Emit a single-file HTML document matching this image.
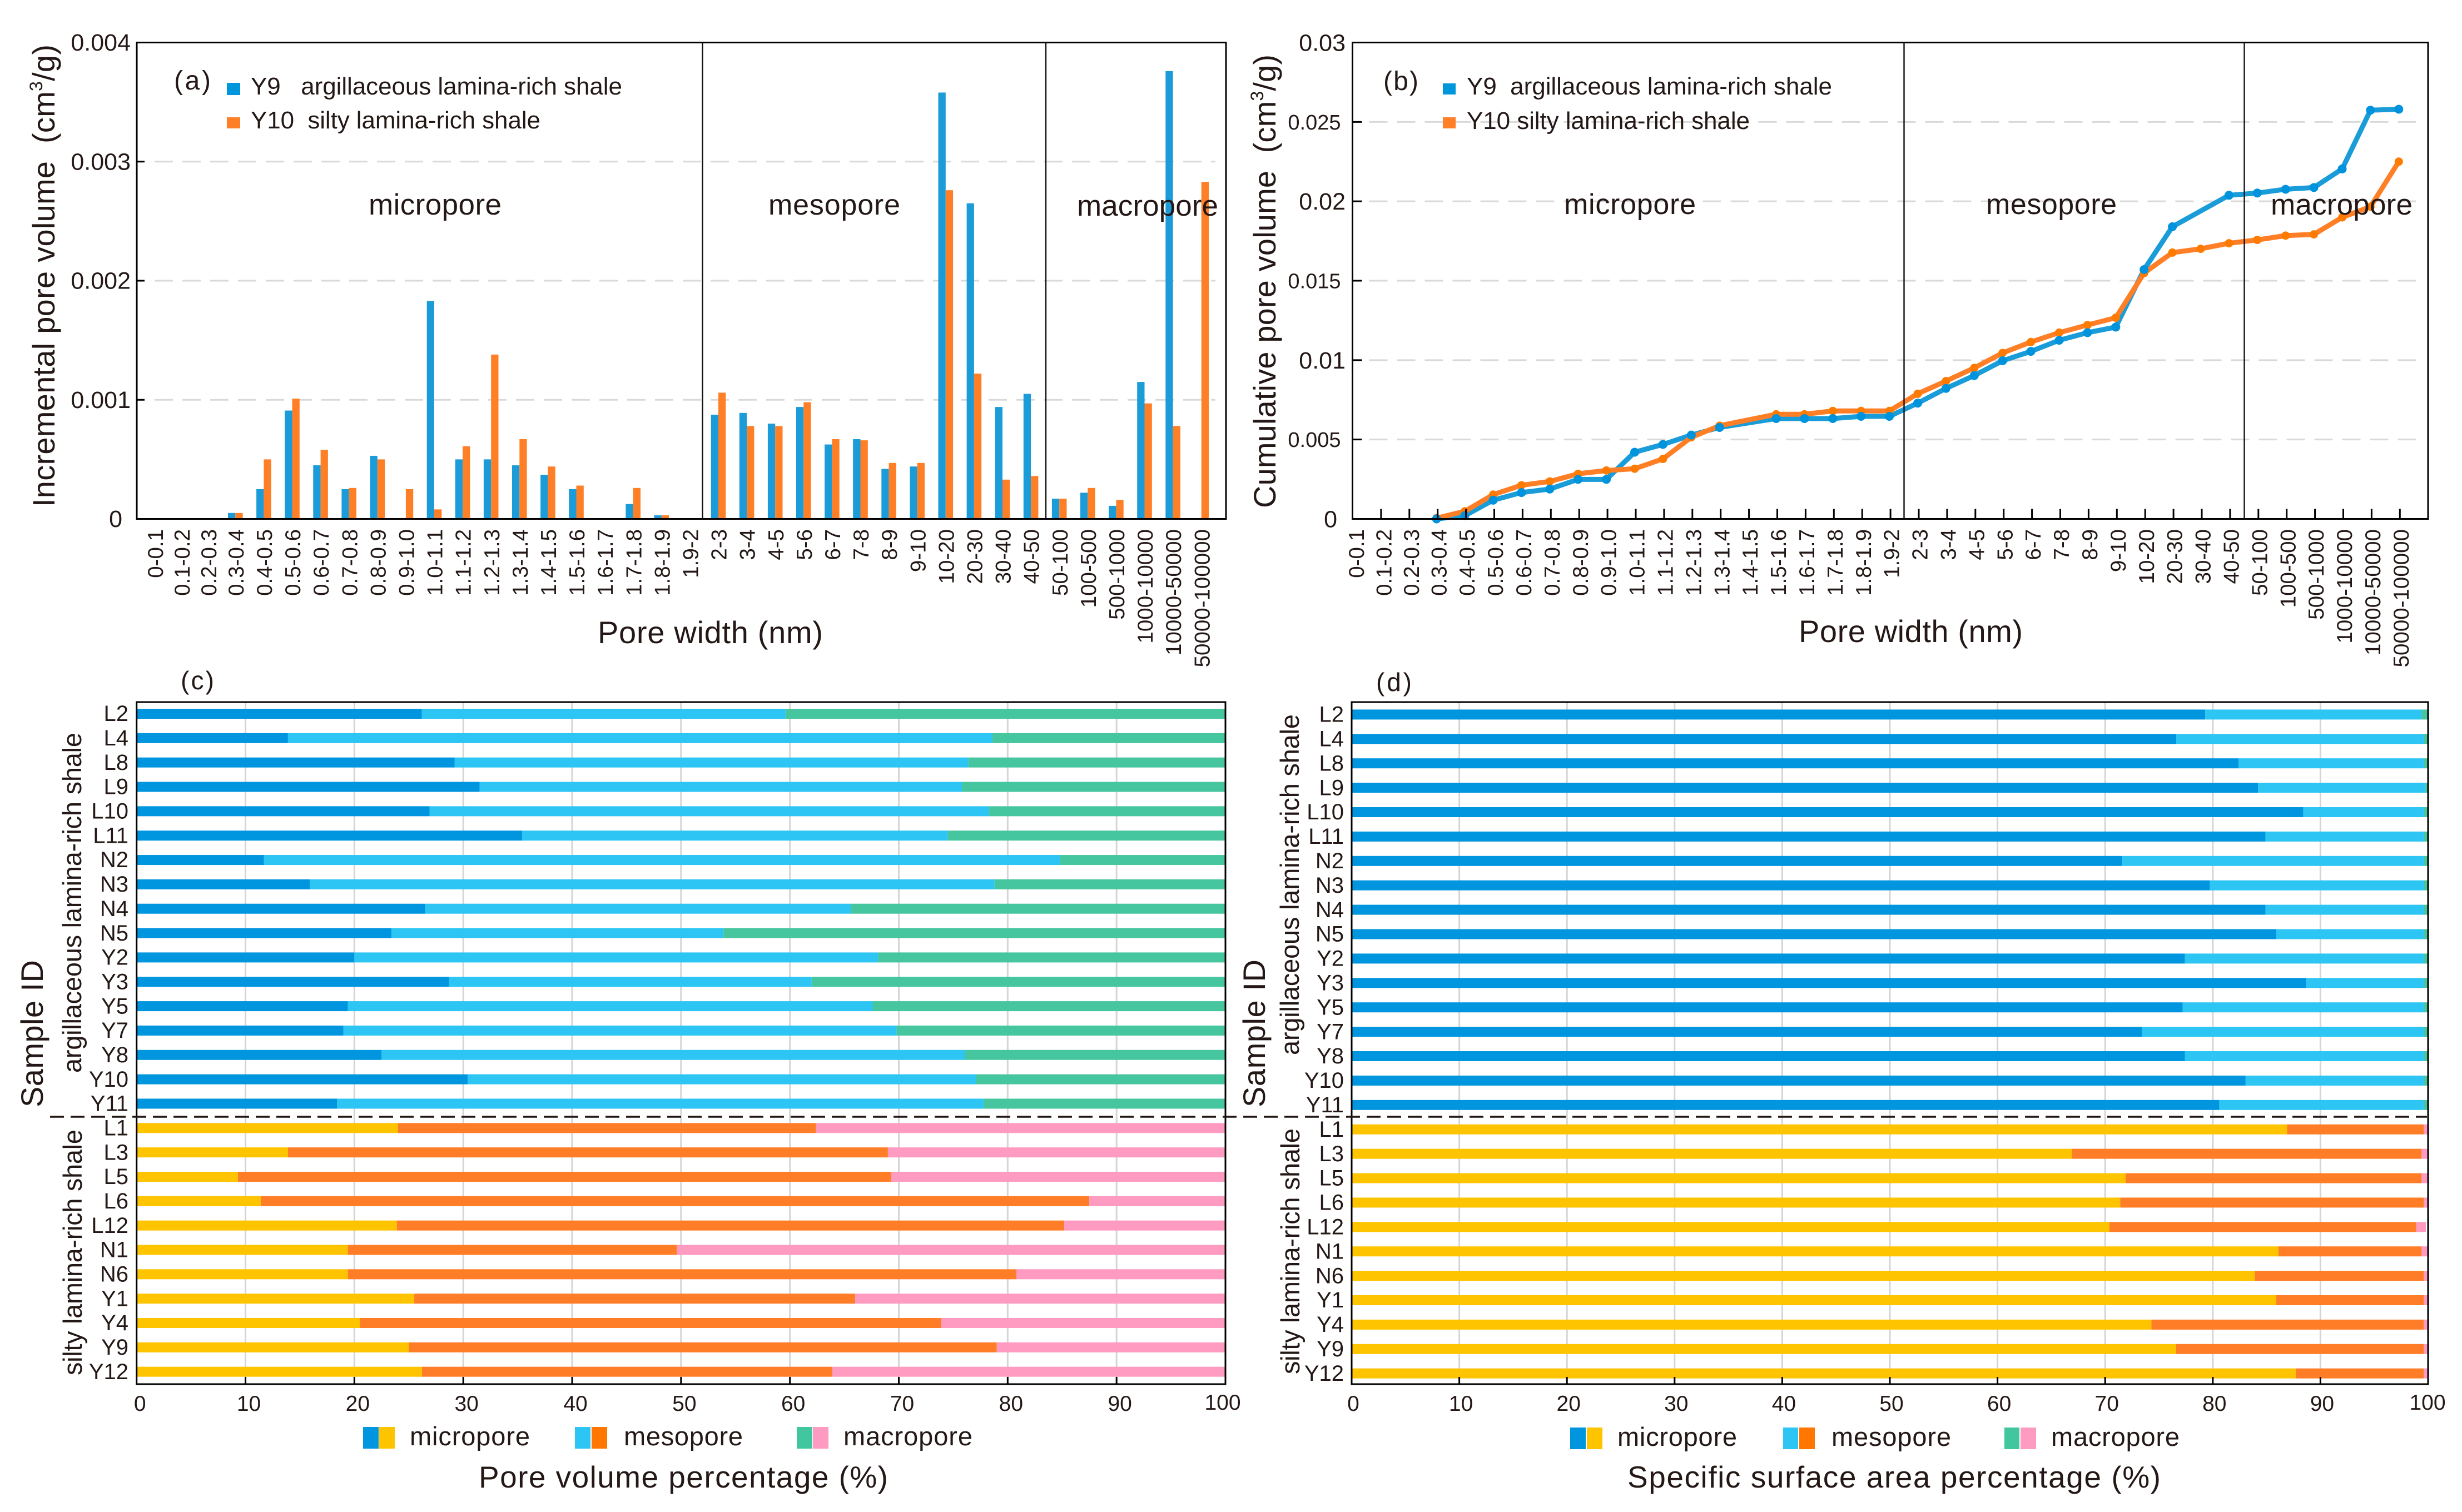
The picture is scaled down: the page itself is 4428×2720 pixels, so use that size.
<!DOCTYPE html>
<html lang="en">
<head>
<meta charset="utf-8">
<title>Pore volume and surface area charts</title>
<style>
html,body{margin:0;padding:0;background:#fff;}
svg{display:block;}
text{font-family:"Liberation Sans",Arial,sans-serif;fill:#231815;white-space:pre;}
</style>
</head>
<body>
<svg id="figure" xmlns="http://www.w3.org/2000/svg" width="4428" height="2720" viewBox="0 0 4428 2720">
  <rect width="4428" height="2720" fill="#fff"/>
  <g id="layer-marks"></g>

  <g>
    <text x="313" y="161" font-size="48" textLength="66">(a)</text>
    <rect x="408" y="149" width="24" height="22" fill="#0096dc"/>
    <rect x="408" y="211" width="24" height="20" fill="#ff7f27"/>
    <text x="451" y="170" font-size="44" textLength="668">Y9   argillaceous lamina-rich shale</text>
    <text x="451" y="231" font-size="44" textLength="521">Y10  silty lamina-rich shale</text>
    <text x="663" y="386" font-size="53" textLength="239">micropore</text>
    <text x="1382" y="386" font-size="52" textLength="237">mesopore</text>
    <text x="1937" y="388" font-size="53" textLength="254">macropore</text>
    <text transform="translate(98,912) rotate(-90)" font-size="56" textLength="832">Incremental pore volume  (cm<tspan font-size="32" dy="-22">3</tspan><tspan dy="22">/g)</tspan></text>
    <text x="1075" y="1157" font-size="56" textLength="405">Pore width (nm)</text>
  </g>

  <g>
    <text x="2488" y="162" font-size="48" textLength="63">(b)</text>
    <rect x="2595" y="150" width="23" height="20" fill="#0096dc"/>
    <rect x="2595" y="211" width="23" height="20" fill="#ff7f27"/>
    <text x="2638" y="170" font-size="44" textLength="657">Y9  argillaceous lamina-rich shale</text>
    <text x="2638" y="232" font-size="44" textLength="509">Y10 silty lamina-rich shale</text>
    <text x="2813" y="385" font-size="52" textLength="237">micropore</text>
    <text x="3572" y="385" font-size="52" textLength="235">mesopore</text>
    <text x="4084" y="386" font-size="53" textLength="255">macropore</text>
    <text transform="translate(2294,914) rotate(-90)" font-size="56" textLength="816">Cumulative pore volume  (cm<tspan font-size="32" dy="-22">3</tspan><tspan dy="22">/g)</tspan></text>
    <text x="3235" y="1155" font-size="56" textLength="403">Pore width (nm)</text>
  </g>

  <g>
    <text x="325" y="1240" font-size="46" textLength="60">(c)</text>
    <text transform="translate(77,1992) rotate(-90)" font-size="56" textLength="265">Sample ID</text>
    <text transform="translate(146,1930) rotate(-90)" font-size="47" textLength="612">argillaceous lamina-rich shale</text>
    <text transform="translate(147,2474) rotate(-90)" font-size="47" textLength="442">silty lamina-rich shale</text>
    <rect x="653" y="2567" width="28" height="39" fill="#0095df"/>
    <rect x="682" y="2567" width="28" height="39" fill="#ffc400"/>
    <text x="737" y="2600" font-size="47" textLength="216">micropore</text>
    <rect x="1034" y="2567" width="28" height="39" fill="#2dc5f4"/>
    <rect x="1064" y="2567" width="28" height="39" fill="#ff7700"/>
    <text x="1122" y="2600" font-size="47" textLength="214">mesopore</text>
    <rect x="1433" y="2567" width="28" height="39" fill="#42c69f"/>
    <rect x="1462" y="2567" width="28" height="39" fill="#ff9ac1"/>
    <text x="1517" y="2600" font-size="47" textLength="232">macropore</text>
    <text x="861" y="2676" font-size="55" textLength="736">Pore volume percentage (%)</text>
  </g>

  <g>
    <text x="2475" y="1243" font-size="46" textLength="64">(d)</text>
    <text transform="translate(2275,1992) rotate(-90)" font-size="56" textLength="266">Sample ID</text>
    <text transform="translate(2336,1898) rotate(-90)" font-size="47" textLength="613">argillaceous lamina-rich shale</text>
    <text transform="translate(2337,2472) rotate(-90)" font-size="47" textLength="442">silty lamina-rich shale</text>
    <rect x="2824" y="2568" width="28" height="39" fill="#0095df"/>
    <rect x="2854" y="2568" width="28" height="39" fill="#ffc400"/>
    <text x="2909" y="2601" font-size="47" textLength="215">micropore</text>
    <rect x="3207" y="2568" width="27" height="39" fill="#2dc5f4"/>
    <rect x="3236" y="2568" width="28" height="39" fill="#ff7700"/>
    <text x="3294" y="2601" font-size="47" textLength="215">mesopore</text>
    <rect x="3605" y="2568" width="27" height="39" fill="#42c69f"/>
    <rect x="3634" y="2568" width="28" height="39" fill="#ff9ac1"/>
    <text x="3689" y="2601" font-size="47" textLength="231">macropore</text>
    <text x="2927" y="2676" font-size="55" textLength="959">Specific surface area percentage (%)</text>
  </g>
  <line x1="90" y1="2009" x2="4365" y2="2009" stroke="#231815" stroke-width="3.5" stroke-dasharray="25 12"/>
</svg>
<script>
// ---------- pore-width categories (panels a, b) ----------
const poreCategories = ["0-0.1","0.1-0.2","0.2-0.3","0.3-0.4","0.4-0.5","0.5-0.6","0.6-0.7","0.7-0.8","0.8-0.9","0.9-1.0","1.0-1.1","1.1-1.2","1.2-1.3","1.3-1.4","1.4-1.5","1.5-1.6","1.6-1.7","1.7-1.8","1.8-1.9","1.9-2","2-3","3-4","4-5","5-6","6-7","7-8","8-9","9-10","10-20","20-30","30-40","40-50","50-100","100-500","500-1000","1000-10000","10000-50000","50000-100000"];

// ---------- panel (a) incremental pore volume, cm3/g ----------
const incrementalY9 = [0,0,0,0.00005,0.00025,0.00091,0.00045,0.00025,0.00053,0,0.00183,0.0005,0.0005,0.00045,0.00037,0.00025,0,0.000125,0.00003,0,0.000875,0.00089,0.0008,0.00094,0.000625,0.00067,0.00042,0.00044,0.00358,0.00265,0.00094,0.00105,0.00017,0.00022,0.00011,0.00115,0.00376,0];
const incrementalY10 = [0,0,0,0.00005,0.0005,0.00101,0.00058,0.00026,0.0005,0.00025,0.00008,0.00061,0.00138,0.00067,0.00044,0.00028,0,0.00026,0.00003,0,0.00106,0.00078,0.00078,0.00098,0.00067,0.00066,0.00047,0.00047,0.00276,0.00122,0.00033,0.00036,0.00017,0.00026,0.00016,0.00097,0.00078,0.00283];
const incrementalTicks = [0,0.001,0.002,0.003,0.004];
const incrementalTickLabels = ["0","0.001","0.002","0.003","0.004"];

// ---------- panel (b) cumulative pore volume, cm3/g ----------
const cumulativeY9 = [null,null,null,0,0.00021,0.00118,0.00166,0.00188,0.00249,0.00249,0.0042,0.00469,0.00528,0.00576,null,0.00632,0.00632,0.00632,0.00646,0.00646,0.00729,0.00822,0.00903,0.00996,0.01055,0.01125,0.01173,0.01208,0.0157,0.0184,null,0.02038,0.02052,0.02076,0.02087,0.02204,0.02574,0.0258];
const cumulativeY10 = [null,null,null,0.00005,0.00048,0.00153,0.00212,0.00236,0.00284,0.00305,0.00316,0.00378,0.00514,0.00587,null,0.00659,0.00659,0.0068,0.0068,0.0068,0.00788,0.00868,0.00951,0.01045,0.01114,0.01173,0.01221,0.01267,0.01548,0.01677,0.01701,0.01736,0.01757,0.01784,0.01792,0.01899,0.01966,0.0225];
const cumulativeTicks = [0,0.005,0.01,0.015,0.02,0.025,0.03];
const cumulativeTickLabels = ["0","0.005","0.01","0.015","0.02","0.025","0.03"];

// ---------- panels (c), (d) samples ----------
const argillaceousSamples = ["L2","L4","L8","L9","L10","L11","N2","N3","N4","N5","Y2","Y3","Y5","Y7","Y8","Y10","Y11"];
const siltySamples = ["L1","L3","L5","L6","L12","N1","N6","Y1","Y4","Y9","Y12"];
const percentTicks = [0,10,20,30,40,50,60,70,80,90,100];

// panel (c) pore volume percentage
const volumeMicroArgillaceous = [26.2,13.9,29.2,31.5,26.9,35.4,11.7,15.9,26.5,23.4,20.0,28.7,19.4,19.0,22.5,30.4,18.4];
const volumeMesoArgillaceous = [33.4,64.7,47.2,44.3,51.4,39.1,73.1,62.9,39.1,30.5,48.1,33.3,48.2,50.8,53.6,46.7,59.4];
const volumeMacroArgillaceous = [40.4,21.4,23.6,24.2,21.7,25.5,15.2,21.2,34.4,46.1,31.9,38.0,32.4,30.2,23.9,22.9,22.2];
const volumeMicroSilty = [24,13.9,9.3,11.4,23.9,19.4,19.4,25.5,20.5,25,26.2];
const volumeMesoSilty = [38.4,55.1,60,76.1,61.3,30.2,61.4,40.5,53.4,54,37.7];
const volumeMacroSilty = [37.6,31,30.7,12.5,14.8,50.4,19.2,34,26.1,21,36.1];

// panel (d) specific surface area percentage
const surfaceMicroArgillaceous = [79.3,76.6,82.4,84.2,88.4,84.9,71.6,79.7,84.9,85.9,77.4,88.7,77.2,73.4,77.4,83.05,80.6];
const surfaceMesoArgillaceous = [20.1,23,17.2,15.55,11.2,14.7,28,19.9,14.7,13.7,22.2,10.9,22.4,26.2,22.2,16.55,19];
const surfaceMacroArgillaceous = [0.6,0.4,0.4,0.25,0.4,0.4,0.4,0.4,0.4,0.4,0.4,0.4,0.4,0.4,0.4,0.4,0.4];
const surfaceMicroSilty = [86.9,66.9,71.9,71.4,70.4,86.1,83.9,85.9,74.3,76.6,87.7];
const surfaceMesoSilty = [12.7,32.5,27.5,28.2,28.5,13.3,15.7,13.7,25.3,23,11.9];
const surfaceMacroSilty = [0.4,0.6,0.6,0.4,0.9,0.6,0.4,0.4,0.4,0.4,0.4];

const SVGNS = "http://www.w3.org/2000/svg";
const layer = document.getElementById("layer-marks");

function addLine(x1, y1, x2, y2, stroke, width, name, dash) {
  const el = document.createElementNS(SVGNS, "line");
  
  
  el.setAttribute("x1", x1); el.setAttribute("y1", y1);
  el.setAttribute("x2", x2); el.setAttribute("y2", y2);
  el.setAttribute("stroke", stroke); el.setAttribute("stroke-width", width);
  if (dash) el.setAttribute("stroke-dasharray", dash);
  layer.appendChild(el);
  return el;
}
function addRect(x, y, w, h, fill, name) {
  const el = document.createElementNS(SVGNS, "rect");
  
  
  el.setAttribute("x", x); el.setAttribute("y", y);
  el.setAttribute("width", Math.max(0, w)); el.setAttribute("height", Math.max(0, h));
  el.setAttribute("fill", fill);
  layer.appendChild(el);
  return el;
}
function addText(str, x, y, size, anchor, name, rotate) {
  const el = document.createElementNS(SVGNS, "text");
  
  
  el.setAttribute("font-size", size);
  el.setAttribute("text-anchor", anchor);
  if (rotate) el.setAttribute("transform", "translate(" + x + "," + y + ") rotate(-90)");
  else { el.setAttribute("x", x); el.setAttribute("y", y); }
  el.textContent = str;
  layer.appendChild(el);
  return el;
}
function addFrame(x0, y0, x1, y1, name) {
  const el = document.createElementNS(SVGNS, "rect");
  
  
  el.setAttribute("x", x0); el.setAttribute("y", y0);
  el.setAttribute("width", x1 - x0); el.setAttribute("height", y1 - y0);
  el.setAttribute("fill", "none"); el.setAttribute("stroke", "#000"); el.setAttribute("stroke-width", 3);
  layer.appendChild(el);
}

// ---------- panel (a) ----------
(function () {
  const L = 246, R = 2205, T = 76.5, B = 933.5;
  const xBand = i => 270 + 51.1 * i;
  const yVal = v => B - (v / 0.004) * (B - T);
  const barW = 13.3;
  incrementalTicks.forEach((v, k) => {
    if (v > 0 && v < 0.004) addLine(L + 32, yVal(v), 2186, yVal(v), "#d9d9d9", 3, "gridline-y", "33 17");
  });
  poreCategories.forEach((c, i) => {
    const cx = xBand(i);
    if (incrementalY9[i] > 0) addRect(cx - barW, yVal(incrementalY9[i]), barW, B - yVal(incrementalY9[i]), "#1b9cd9", "bar-y9-" + c);
    if (incrementalY10[i] > 0) addRect(cx, yVal(incrementalY10[i]), barW, B - yVal(incrementalY10[i]), "#ff7f27", "bar-y10-" + c);
    const lx = cx + (i < 3 ? (3 - i) * 3.2 : 1);
    addText(c, lx + 13.6, 952, 38.5, "end", "x-tick-label", true);
  });
  addLine(1263.5, T, 1263.5, B, "#111", 2.4, "micro-meso-boundary");
  addLine(1881, T, 1881, B, "#111", 2.4, "meso-macro-boundary");
  addFrame(L, T, R, B, "panel-a-frame");
  incrementalTicks.forEach((v, k) => {
    if (v > 0 && v < 0.004) addLine(L, yVal(v), L + 14, yVal(v), "#000", 3, "y-tick");
    addText(incrementalTickLabels[k], v === 0 ? 220 : 235, yVal(v) + 14.5, 43, "end", "y-tick-label");
  });
})();

// ---------- panel (b) ----------
(function () {
  const L = 2432.5, R = 4367, T = 76.5, B = 933.5;
  const xPt = i => 2431 + 50.9 * i;
  const yVal = v => B - (v / 0.03) * (B - T);
  cumulativeTicks.forEach(v => {
    if (v > 0 && v < 0.03) addLine(L + 30, yVal(v), R - 5, yVal(v), "#d9d9d9", 3, "gridline-y", "33 17");
  });
  function polyline(series, color, name) {
    const pts = [];
    series.forEach((v, i) => { if (v !== null) pts.push(xPt(i) + "," + yVal(v)); });
    const el = document.createElementNS(SVGNS, "polyline");
    
    
    el.setAttribute("points", pts.join(" "));
    el.setAttribute("fill", "none");
    el.setAttribute("stroke", color);
    el.setAttribute("stroke-width", 9);
    el.setAttribute("stroke-linejoin", "round");
    layer.appendChild(el);
  }
  function markers(series, color, r, name) {
    series.forEach((v, i) => {
      if (v === null) return;
      const el = document.createElementNS(SVGNS, "circle");
      
      
      el.setAttribute("cx", xPt(i)); el.setAttribute("cy", yVal(v));
      el.setAttribute("r", r); el.setAttribute("fill", color);
      layer.appendChild(el);
    });
  }
  polyline(cumulativeY9, "#1a9cd9", "line-y9");
  polyline(cumulativeY10, "#ff7f27", "line-y10");
  markers(cumulativeY10, "#ff7b00", 7.5, "point-y10");
  markers(cumulativeY9, "#0093dd", 8, "point-y9");
  addLine(3424.5, T, 3424.5, B, "#111", 2.4, "micro-meso-boundary");
  addLine(4036.5, T, 4036.5, B, "#111", 2.4, "meso-macro-boundary");
  addFrame(L, T, R, B, "panel-b-frame");
  poreCategories.forEach((c, i) => {
    const tx = xPt(i) + 2;
    if (i > 0) addLine(tx, B, tx, B - 18, "#000", 3, "x-tick");
    const lx = xPt(i) + 4 + (i < 3 ? (3 - i) * 1.5 : 0);
    addText(c, lx + 13.6, 952, 38.5, "end", "x-tick-label", true);
  });
  cumulativeTicks.forEach((v, k) => {
    if (v > 0 && v < 0.03) addLine(L, yVal(v), L + 17, yVal(v), "#000", 3, "y-tick");
    const lab = cumulativeTickLabels[k];
    const five = lab.length === 5;
    const rx = v === 0 ? 2405 : (five ? 2411.5 : 2420);
    addText(lab, rx, yVal(v) + (five ? 13.5 : 15), five ? 38 : 43, "end", "y-tick-label");
  });
})();

// ---------- panels (c), (d) stacked bars ----------
function stackedPanel(opts) {
  const T = 1263, B = 2490;
  const xVal = v => opts.L + (v / 100) * (opts.R - opts.L);
  const rowY = i => opts.y0 + opts.dy * i;
  percentTicks.forEach(v => {
    if (v > 0 && v < 100) addLine(xVal(v), T, xVal(v), B, "#d5d5d5", 3, "gridline-x");
  });
  function drawGroup(samples, micro, meso, macro, colors, start) {
    samples.forEach((s, k) => {
      const cy = rowY(start + k);
      const h = 18, top = cy - h / 2;
      const a = micro[k], b = a + meso[k], c = b + macro[k];
      addRect(xVal(0), top, xVal(a) - xVal(0), h, colors[0], "bar-micropore-" + s);
      addRect(xVal(a), top, xVal(b) - xVal(a), h, colors[1], "bar-mesopore-" + s);
      addRect(xVal(b), top, xVal(c) - xVal(b), h, colors[2], "bar-macropore-" + s);
      addText(s, opts.labelRight, cy + 13.2, 40, "end", "y-tick-label");
    });
  }
  drawGroup(argillaceousSamples, opts.upper[0], opts.upper[1], opts.upper[2], ["#0095df", "#2dc5f4", "#46c69e"], 0);
  drawGroup(siltySamples, opts.lower[0], opts.lower[1], opts.lower[2], ["#ffc400", "#ff7d27", "#ff9ac1"], argillaceousSamples.length);
  addFrame(opts.L, T, opts.R, B, opts.name + "-frame");
  percentTicks.forEach(v => {
    if (v > 0 && v < 100) addLine(xVal(v), B, xVal(v), B - 13, "#000", 3, "x-tick");
    const off = v === 100 ? opts.off100 : opts.offTick;
    addText(String(v), xVal(v) + off, v === 100 ? 2536 : 2538, 39, "middle", "x-tick-label");
  });
}
stackedPanel({
  name: "panel-c", L: 245.7, R: 2204, y0: 1284, dy: 43.84, labelRight: 231, offTick: 6, off100: -5,
  upper: [volumeMicroArgillaceous, volumeMesoArgillaceous, volumeMacroArgillaceous],
  lower: [volumeMicroSilty, volumeMesoSilty, volumeMacroSilty]
});
stackedPanel({
  name: "panel-d", L: 2431, R: 4367, y0: 1285.4, dy: 43.9, labelRight: 2417, offTick: 3, off100: -1,
  upper: [surfaceMicroArgillaceous, surfaceMesoArgillaceous, surfaceMacroArgillaceous],
  lower: [surfaceMicroSilty, surfaceMesoSilty, surfaceMacroSilty]
});
</script>
</body>
</html>
